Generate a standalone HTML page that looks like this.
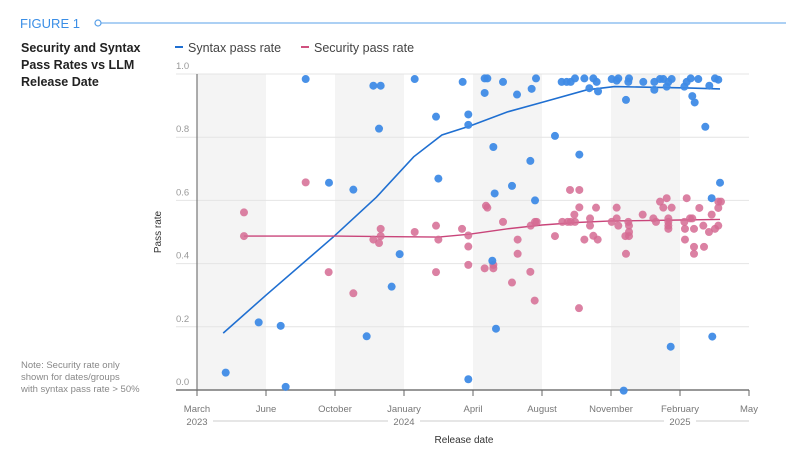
<!DOCTYPE html>
<html><head><meta charset="utf-8"><style>
body{margin:0;background:#fff;font-family:"Liberation Sans",sans-serif;}
svg{display:block}
</style></head><body>
<svg id="chart" width="786" height="468">
<text x="20" y="28" font-size="13" fill="#3a8ee6">FIGURE 1</text>
<circle cx="98" cy="23" r="3" fill="#fff" stroke="#5aa0e8" stroke-width="1.2"/>
<line x1="101" y1="23" x2="786" y2="23" stroke="#5aa0e8" stroke-width="1"/>
<g font-size="12.5" font-weight="bold" fill="#222">
<text x="21" y="52">Security and Syntax</text><text x="21" y="69">Pass Rates vs LLM</text><text x="21" y="86">Release Date</text></g>
<g>
<line x1="175" y1="47" x2="183" y2="47" stroke="#1f6fd1" stroke-width="2"/>
<text x="188" y="52" font-size="12.5" fill="#444">Syntax pass rate</text>
<line x1="301" y1="47" x2="309" y2="47" stroke="#d0507f" stroke-width="2"/>
<text x="314" y="52" font-size="12.5" fill="#444">Security pass rate</text></g>
<g font-size="9.5" fill="#888">
<text x="21" y="368">Note: Security rate only</text><text x="21" y="380">shown for dates/groups</text><text x="21" y="392">with syntax pass rate &gt; 50%</text></g>
<text transform="translate(161,232) rotate(-90)" text-anchor="middle" font-size="10" fill="#333">Pass rate</text>
<text x="464" y="443" text-anchor="middle" font-size="10" fill="#333">Release date</text>
<g id="bands"></g><g id="grid"></g><g id="axes"></g><g id="lines"></g><g id="pts"></g>
</svg>
<script>
const tickLabels=["March","June","October","January","April","August","November","February","May"];
const yTicks=[0,0.2,0.4,0.6,0.8,1.0];
const years=[["2023",0],["2024",3],["2025",7]];
const syntaxT=[0.416,0.894,1.213,1.285,1.575,1.913,2.266,2.459,2.556,2.662,2.638,2.821,2.937,3.155,3.464,3.498,3.85,3.932,3.932,3.932,4.169,4.208,4.169,4.435,4.638,4.85,4.913,4.295,4.831,4.565,4.314,4.899,4.28,4.333,5.188,5.541,5.285,5.358,5.416,5.478,5.614,5.744,5.792,5.686,5.812,6.010,6.106,6.082,6.261,6.251,6.217,6.468,6.628,6.628,6.710,6.758,6.807,6.831,6.879,7.063,7.097,7.155,7.265,7.178,7.213,7.425,7.507,7.555,7.367,7.580,7.459,7.468,6.865,6.184];
const syntaxV=[0.055,0.214,0.203,0.01,0.984,0.656,0.634,0.17,0.963,0.963,0.827,0.327,0.43,0.984,0.865,0.669,0.975,0.872,0.839,0.034,0.986,0.986,0.94,0.975,0.935,0.953,0.986,0.769,0.725,0.646,0.622,0.6,0.409,0.194,0.804,0.745,0.975,0.975,0.975,0.986,0.986,0.986,0.975,0.955,0.945,0.984,0.986,0.979,0.986,0.975,0.918,0.975,0.975,0.950,0.984,0.984,0.960,0.975,0.984,0.960,0.975,0.986,0.984,0.930,0.910,0.963,0.986,0.982,0.833,0.656,0.607,0.169,0.137,-0.002];
const secT=[0.681,0.681,1.575,1.908,2.266,2.556,2.638,2.662,2.662,3.155,3.464,3.498,3.464,3.841,3.932,3.932,3.932,4.169,4.295,4.295,4.188,4.208,4.435,4.647,4.647,4.565,4.831,4.894,4.836,4.899,4.923,5.188,5.295,5.372,5.416,5.478,5.469,5.406,5.541,5.541,5.614,5.696,5.696,5.744,5.807,5.783,5.536,6.010,6.082,6.106,6.082,6.251,6.261,6.261,6.261,6.208,6.217,6.459,6.614,6.652,6.710,6.758,6.807,6.831,6.831,6.831,6.831,6.879,7.063,7.097,7.145,7.178,7.072,7.072,7.203,7.203,7.203,7.280,7.338,7.348,7.420,7.459,7.507,7.555,7.555,7.555,7.594];
const secV=[0.562,0.487,0.657,0.373,0.306,0.476,0.465,0.51,0.487,0.5,0.52,0.476,0.373,0.51,0.489,0.454,0.396,0.385,0.385,0.396,0.583,0.577,0.532,0.476,0.431,0.340,0.374,0.283,0.520,0.532,0.532,0.487,0.532,0.532,0.532,0.532,0.555,0.633,0.633,0.578,0.476,0.543,0.520,0.488,0.476,0.577,0.259,0.532,0.543,0.520,0.577,0.532,0.520,0.500,0.487,0.487,0.431,0.555,0.543,0.532,0.596,0.577,0.607,0.543,0.532,0.520,0.510,0.577,0.532,0.607,0.543,0.543,0.510,0.476,0.510,0.453,0.431,0.576,0.520,0.453,0.500,0.555,0.510,0.520,0.576,0.596,0.596];
const syntaxLineT=[0.38,1.0,1.98,2.6,3.14,3.55,3.95,4.5,5.0,5.65,6.05,6.6,7.1,7.58];
const syntaxLineV=[0.18,0.30,0.485,0.61,0.738,0.807,0.835,0.88,0.91,0.95,0.96,0.958,0.956,0.953];
const secLineT=[0.68,2.0,3.5,3.95,4.5,5.0,5.5,6.0,6.5,7.0,7.58];
const secLineV=[0.487,0.487,0.484,0.493,0.51,0.522,0.53,0.535,0.536,0.538,0.54];
const NS="http://www.w3.org/2000/svg";
const X0=197,DX=69.0,Y0=390,H=316;
const xs=t=>X0+t*DX, ys=v=>Y0-v*H;
function mk(tag,attrs,parent){const e=document.createElementNS(NS,tag);for(const k in attrs)e.setAttribute(k,attrs[k]);document.getElementById(parent).appendChild(e);return e;}
for(let i=0;i<8;i+=2){const r=mk('rect',{x:xs(i),y:ys(1),width:DX,height:H,fill:'#f4f4f4'},'bands');

}
yTicks.forEach(v=>{if(v>0){const l=mk('line',{x1:176,x2:xs(8),y1:ys(v),y2:ys(v),stroke:'#e4e4e4','stroke-width':1},'grid');

}
const t=mk('text',{x:176,y:ys(v)-5,'font-size':9.5,fill:'#999'},'grid');t.textContent=v.toFixed(1);

});
const ax=mk('line',{x1:176,x2:xs(8),y1:Y0,y2:Y0,stroke:'#777','stroke-width':1.5},'axes');


const ay=mk('line',{x1:X0,x2:X0,y1:ys(1),y2:Y0,stroke:'#777','stroke-width':1.2},'axes');


tickLabels.forEach((s,i)=>{const tk=mk('line',{x1:xs(i),x2:xs(i),y1:Y0,y2:Y0+6,stroke:'#666'},'axes');


const t=mk('text',{x:xs(i),y:Y0+22,'text-anchor':'middle','font-size':9.5,fill:'#777'},'axes');t.textContent=s;

});
years.forEach((y,j)=>{const t=mk('text',{x:xs(y[1]),y:Y0+35,'text-anchor':'middle','font-size':9.5,fill:'#777'},'axes');t.textContent=y[0];


const end=j<years.length-1?xs(years[j+1][1])-16:xs(8);
const l=mk('line',{x1:xs(y[1])+16,x2:end,y1:Y0+31,y2:Y0+31,stroke:'#bbb','stroke-width':0.8},'axes');

});
function path(T,V){return T.map((t,i)=>(i?'L':'M')+xs(t).toFixed(1)+','+ys(V[i]).toFixed(1)).join('');}
const sl=mk('path',{d:path(syntaxLineT,syntaxLineV),fill:'none',stroke:'#1f6fd1','stroke-width':1.6},'lines');


const pl=mk('path',{d:path(secLineT,secLineV),fill:'none',stroke:'#c9457a','stroke-width':1.4},'lines');


secT.forEach((t,i)=>{const c=mk('circle',{cx:xs(t),cy:ys(secV[i]),r:4,fill:'#d56b93','fill-opacity':0.85},'pts');

});
syntaxT.forEach((t,i)=>{const c=mk('circle',{cx:xs(t),cy:ys(syntaxV[i]),r:4,fill:'#3f8be6','fill-opacity':0.95},'pts');

});
</script>
</body></html>
